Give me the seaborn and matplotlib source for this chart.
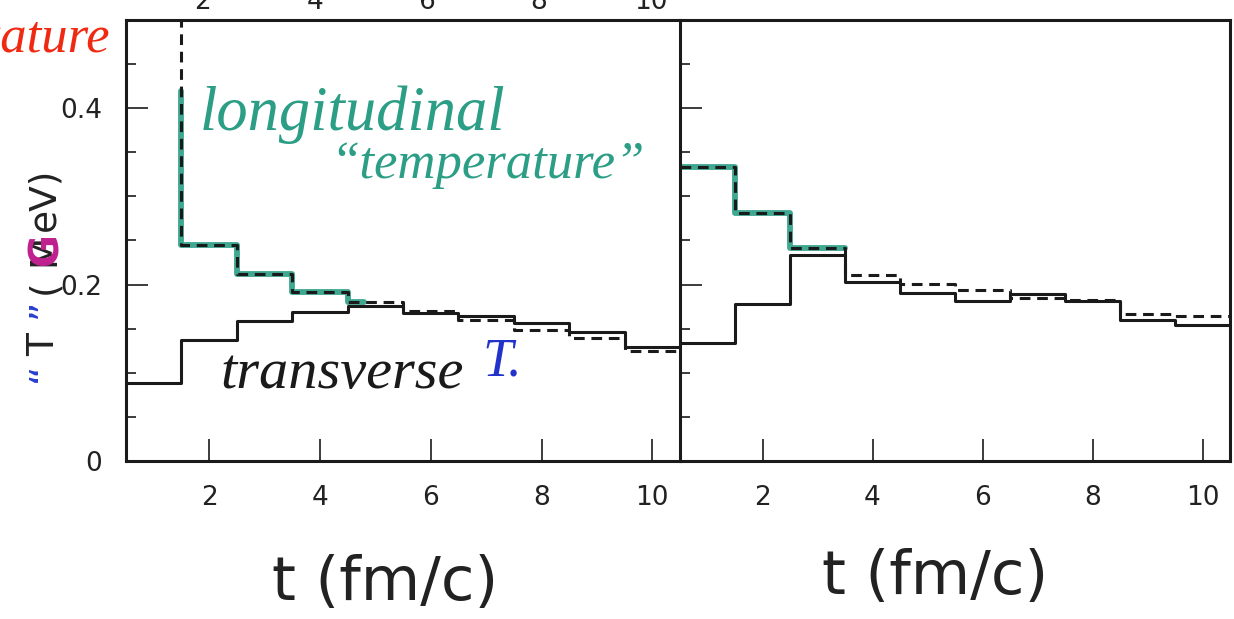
import numpy as np
import pandas as pd
import seaborn as sns
import matplotlib.pyplot as plt
from matplotlib.ticker import MultipleLocator

# ---- data: mean "temperature" per 1 fm/c time bin -------------------------
t_centers = [1, 2, 3, 4, 5, 6, 7, 8, 9, 10]
t_edges = [0.5, 1.5, 2.5, 3.5, 4.5, 5.5, 6.5, 7.5, 8.5, 9.5, 10.5]

# left panel (first bin of the longitudinal curve runs off scale)
left_transverse = [0.089, 0.137, 0.159, 0.169, 0.176, 0.168, 0.164, 0.156, 0.146, 0.129]
left_longitudinal = [0.95, 0.245, 0.212, 0.192, 0.180, 0.170, 0.160, 0.148, 0.140, 0.125]

# right panel
right_transverse = [0.134, 0.178, 0.233, 0.203, 0.190, 0.181, 0.189, 0.181, 0.160, 0.154]
right_longitudinal = [0.333, 0.281, 0.241, 0.211, 0.201, 0.194, 0.185, 0.183, 0.167, 0.164]

# extent of the hand-drawn highlight along the longitudinal curves
left_marker_top = 0.42
left_marker_end = 4.8
right_marker_end = 3.5

x_ticks = [2, 4, 6, 8, 10]
y_ticks = [0, 0.2, 0.4]
y_tick_labels = ["0", "0.2", "0.4"]

W, H = 1234, 619
sns.set_theme(style="white")
plt.rcParams["font.family"] = ["DejaVu Sans"]

fig = plt.figure(figsize=(W / 100, H / 100), dpi=100)
fig.patch.set_facecolor("white")


def fx(px):
    return px / W


def fy(py):
    return 1 - py / H


ax_top, ax_bottom = 20, 461
axL = fig.add_axes([fx(126), fy(ax_bottom), 554 / W, (ax_bottom - ax_top) / H])
axR = fig.add_axes([fx(680), fy(ax_bottom), 550 / W, (ax_bottom - ax_top) / H])

teal = "#2b9e85"
ink = "#1a1a1a"


def step_trace(values, start, stop, top=None):
    """Step outline of a binned curve between two times."""
    xs, ys = [], []
    if top is not None:
        xs.append(start)
        ys.append(top)
    for lo, hi, v in zip(t_edges[:-1], t_edges[1:], values):
        a, b = max(lo, start), min(hi, stop)
        if a >= b:
            continue
        xs += [a, b]
        ys += [v, v]
    return pd.DataFrame({"t": xs, "T": ys})


for ax, trans, longi, marker in [
    (axL, left_transverse, left_longitudinal,
     step_trace(left_longitudinal, 1.5, left_marker_end, top=left_marker_top)),
    (axR, right_transverse, right_longitudinal,
     step_trace(right_longitudinal, 0.5, right_marker_end)),
]:
    # hand-drawn highlight underneath
    sns.lineplot(data=marker, x="t", y="T", sort=False, estimator=None,
                 color=teal, lw=4.2, alpha=0.9, ax=ax, solid_capstyle="round")
    sns.histplot(x=t_centers, weights=trans, bins=t_edges, element="step",
                 fill=False, color=ink, lw=2.2, ax=ax)
    sns.histplot(x=t_centers, weights=longi, bins=t_edges, element="step",
                 fill=False, color=ink, lw=2.2, linestyle=(0, (3.5, 2.2)), ax=ax)

    ax.set_xlim(0.5, 10.5)
    ax.set_ylim(0, 0.5)
    ax.set_xticks(x_ticks)
    ax.set_yticks(y_ticks)
    ax.yaxis.set_minor_locator(MultipleLocator(0.05))
    ax.tick_params(axis="both", which="major", direction="in", length=16,
                   width=1.2, color=ink, labelsize=19, labelcolor="#222222",
                   pad=17, top=False, right=False, bottom=True, left=True)
    ax.tick_params(axis="y", which="minor", direction="in", length=7,
                   width=1.2, color=ink, left=True, right=False)
    for s in ax.spines.values():
        s.set_linewidth(2.2)
        s.set_color(ink)
    ax.set_ylabel("")
    ax.set_facecolor("white")

axL.set_yticklabels(y_tick_labels)
axR.tick_params(axis="y", labelleft=False)
axL.spines["right"].set_visible(False)

for ax, cx, cy in [(axL, 385, 583), (axR, 935, 578)]:
    ax.set_xlabel("t (fm/c)", fontsize=44, color="#222222")
    ax.xaxis.set_label_coords((cx - ax.get_position().x0 * W) / (ax.get_position().width * W),
                              -(cy - ax_bottom) / (ax_bottom - ax_top))
    ax.xaxis.label.set_verticalalignment("center")

# axis labels of the panel above, cut by the top edge
for xv, px in zip(x_ticks, [203, 315, 427, 539, 651]):
    fig.text(fx(px), fy(9), str(xv), fontsize=19, color="#222222",
             ha="center", va="baseline")

# y-axis title, assembled from printed and hand-corrected pieces
ykw = dict(rotation=90, rotation_mode="anchor", ha="left", va="baseline", fontsize=27)
base_x = fx(54)
fig.text(base_x, fy(382), "\u201c", color="#2a3fd0", **ykw)
fig.text(base_x, fy(356), "T", color="#222222", **ykw)
fig.text(base_x, fy(318), "\u201d", color="#2a3fd0", **ykw)
fig.text(base_x, fy(294), "(", color="#222222", **ykw)
fig.text(base_x, fy(266), "M", color="#222222", **ykw)
fig.text(fx(57), fy(265), "G", color="#c0208f", fontweight="bold",
         **{**ykw, "fontsize": 29})
fig.text(base_x, fy(231), "eV)", color="#222222", **ykw)

# handwritten notes
hand = dict(family="Liberation Serif", style="italic", va="baseline")
fig.text(fx(110), fy(52), "Temperature", color="#f02a12", fontsize=38, ha="right", **hand)
fig.text(fx(200), fy(130), "longitudinal", color=teal, fontsize=45, **hand)
fig.text(fx(330), fy(178), "\u201ctemperature\u201d", color=teal, fontsize=38, **hand)
fig.text(fx(220), fy(388), "transverse", color=ink, fontsize=42, **hand)
fig.text(fx(482), fy(376), "T.", color="#2233cc", fontsize=39, **hand)

fig.savefig("out.png", dpi=100, facecolor="white")
